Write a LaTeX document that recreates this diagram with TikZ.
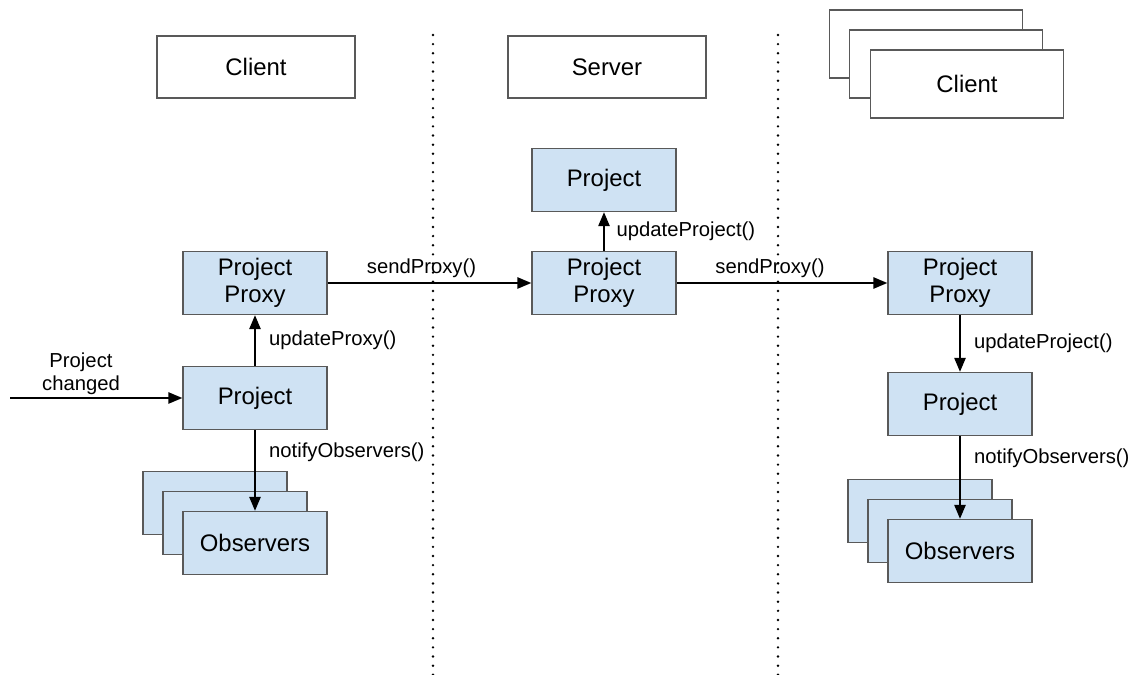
\documentclass[tikz,border=0pt]{standalone}
\usepackage{fontspec}
\setmainfont{Liberation Sans}
\usetikzlibrary{arrows.meta,positioning}
\definecolor{boxblue}{HTML}{CFE2F3}
\definecolor{boxline}{HTML}{595959}

\begin{document}
\begin{tikzpicture}[x=0.025cm,y=-0.025cm,
  obj/.style={draw=boxline,line width=0.9pt,fill=boxblue,minimum width=3.6cm,minimum height=1.575cm,
    align=center,inner sep=0pt,font=\fontsize{17}{19.5}\selectfont},
  role/.style={draw=boxline,line width=0.9pt,fill=white,minimum width=4.95cm,minimum height=1.55cm,
    inner sep=0pt,font=\fontsize{17}{19.5}\selectfont},
  msg/.style={-{Triangle[length=10pt,width=8pt]},line width=1.4pt},
  call/.style={font=\fontsize{14.4}{16.5}\selectfont},
  dotline/.style={line width=1.9pt,dash pattern=on 0pt off 6.5pt,line cap=round}]
\useasboundingbox (0,0) rectangle (1133,675);

% tiers
\draw[dotline] (433,35) -- (433,675);
\draw[dotline] (778,35) -- (778,675);
\node[role] (clientL) at (256,67) {Client};
\node[role] (server) at (607,67) {Server};
\node[role,minimum width=4.825cm,minimum height=1.7cm] (clientR3) at (926,44) {};
\node[role,minimum width=4.825cm,minimum height=1.7cm] (clientR2) at (946,64) {};
\node[role,minimum width=4.825cm,minimum height=1.7cm] (clientR) at (967,84) {Client};

% left client
\node[obj] (proxyL) at (255,283) {Project\\Proxy};
\node[obj] (projectL) at (255,398) {Project};
\node[obj] (obsL3) at (215,503) {};
\node[obj] (obsL2) at (235,523) {};
\node[obj] (obsL) at (255,543) {Observers};
\coordinate (changeIn) at (10,398);
\node[call,align=center] (changeTxt) at (81,374) {Project\\changed};

% server
\node[obj] (projectS) at (604,180) {Project};
\node[obj] (proxyS) at (604,283) {Project\\Proxy};

% right clients
\node[obj] (proxyR) at (960,283) {Project\\Proxy};
\node[obj] (projectR) at (960,404) {Project};
\node[obj] (obsR3) at (920,511) {};
\node[obj] (obsR2) at (940,531) {};
\node[obj] (obsR) at (960,551) {Observers};

% messages
\draw[msg] (changeIn) -- (projectL);
\draw[msg] (projectL) -- node[call,right=6pt] (lblUpdProxy) {updateProxy()} (proxyL);
\draw[msg] (projectL) -- node[call,pos=0.27,right=6pt] (lblNotifyL) {notifyObservers()} (obsL);
\draw[msg] (proxyL) -- node[call,above,xshift=-0.2cm] (lblSendL) {sendProxy()} (proxyS);
\draw[msg] (proxyS) -- node[call,right=5pt] (lblUpdS) {updateProject()} (projectS);
\draw[msg] (proxyS) -- node[call,above,xshift=-0.3cm] (lblSendR) {sendProxy()} (proxyR);
\draw[msg] (proxyR) -- node[call,right=6pt] (lblUpdR) {updateProject()} (projectR);
\draw[msg] (projectR) -- node[call,pos=0.27,right=6pt] (lblNotifyR) {notifyObservers()} (obsR);
\end{tikzpicture}
\end{document}
